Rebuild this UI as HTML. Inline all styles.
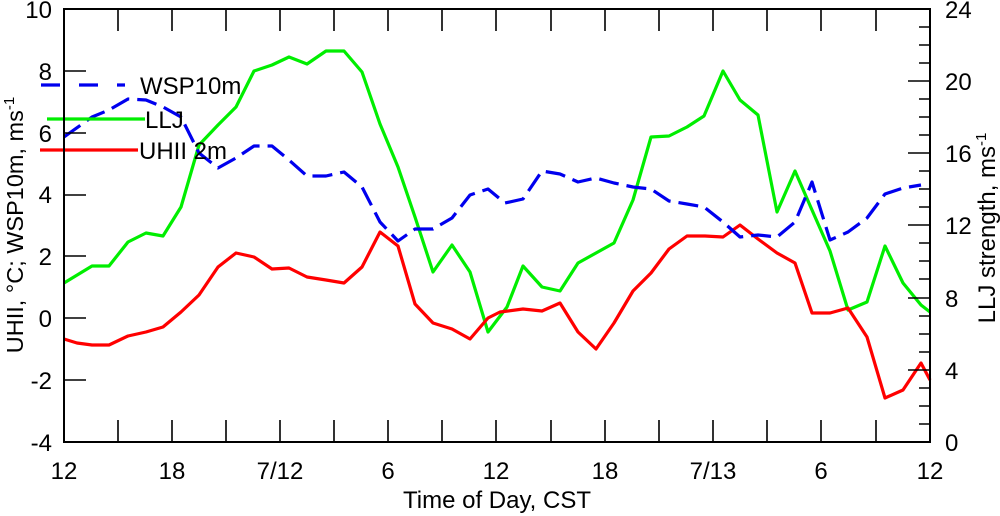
<!DOCTYPE html>
<html><head><meta charset="utf-8"><style>
html,body{margin:0;padding:0;background:#fff;}
svg{display:block;font-family:"Liberation Sans",sans-serif;}
</style></head><body>
<svg width="1000" height="516" viewBox="0 0 1000 516" xmlns="http://www.w3.org/2000/svg">
<g fill="none" stroke-linejoin="round" stroke-width="3.2">
<polyline stroke="#00ee00" points="64,283 92,266 109,266 128,242 146,233 163,236 181,207 199,145 218,125 236,107 254,71 272,65 289,57 307,64 326,51 344,51 362,72 380,124 398,167 415,217 433,272 452,245 470,272 488,332 507,307 523,266 542,287 560,291 578,263 596,253 614,243 633,200 651,137 669,136 687,127 704,116 723,71 740,100 758,115 777,212 795,171 812,210 830,251 848,310 867,302 885,246 903,283 921,305 930,312"/>
<polyline stroke="#ff0000" points="64,339 77,343 92,345 109,345 128,336 146,332 163,327 181,312 199,295 218,267 236,253 254,257 272,269 289,268 307,277 326,280 344,283 362,267 380,232 398,246 415,304 433,323 452,329 470,339 488,318 500,312 523,309 542,311 560,303 578,332 596,349 614,323 633,291 651,273 669,249 687,236 705,236 723,237 740,225 758,239 777,253 795,263 812,313 830,313 848,308 867,337 885,398 903,390 921,363 930,380"/>
<polyline stroke="#0000ee" stroke-dasharray="20 8" points="64,137 92,117 109,110 128,99 146,100 163,107 181,117 199,153 218,168 236,158 254,146 272,146 289,160 307,176 326,176 344,172 362,187 380,222 398,241 415,229 433,229 452,218 470,195 488,189 505,203 523,199 542,171 560,174 578,182 596,178 614,183 633,187 651,189 669,201 687,204 704,207 723,222 740,237 758,235 777,237 795,222 812,182 830,240 848,232 867,218 885,194 903,188 921,185"/>
<line x1="41" y1="85" x2="125" y2="85" stroke="#0000ee" stroke-dasharray="19 19"/>
<line x1="47" y1="119" x2="145" y2="119" stroke="#00ee00"/>
<line x1="40" y1="150" x2="138" y2="150" stroke="#ff0000"/>
</g>
<g font-size="24" fill="#000">
<text x="140" y="94">WSP10m</text>
<text x="145" y="128">LLJ</text>
<text x="139" y="159">UHII 2m</text>
</g>
<rect x="64" y="9" width="866" height="433" fill="none" stroke="#000" stroke-width="2"/>
<g stroke="#000" stroke-width="1.6">
<path d="M118,9v22M172,9v22M226,9v22M280,9v22M334,9v22M388,9v22M442,9v22M496,9v22M551,9v22M605,9v22M659,9v22M713,9v22M767,9v22M821,9v22M876,9v22"/>
<path d="M118,442v-22M172,442v-22M226,442v-22M280,442v-22M334,442v-22M388,442v-22M442,442v-22M496,442v-22M551,442v-22M605,442v-22M659,442v-22M713,442v-22M767,442v-22M821,442v-22M876,442v-22"/>
<path d="M64,71h22M64,133h22M64,195h22M64,256h22M64,318h22M64,380h22"/>
<path d="M930,81h-22M930,153h-22M930,225h-22M930,298h-22M930,370h-22"/>
<path d="M930,27h-11M930,45h-11M930,63h-11M930,99h-11M930,117h-11M930,135h-11M930,171h-11M930,189h-11M930,207h-11M930,243h-11M930,261h-11M930,279h-11M930,316h-11M930,334h-11M930,352h-11M930,388h-11M930,406h-11M930,424h-11"/>
</g>
<g font-size="24" fill="#000" text-anchor="end">
<text x="52" y="18">10</text>
<text x="52" y="80">8</text>
<text x="52" y="142">6</text>
<text x="52" y="203">4</text>
<text x="52" y="265">2</text>
<text x="52" y="327">0</text>
<text x="52" y="389">-2</text>
<text x="52" y="451">-4</text>
</g>
<g font-size="24" fill="#000">
<text x="945" y="18">24</text>
<text x="945" y="90">20</text>
<text x="945" y="162">16</text>
<text x="945" y="234">12</text>
<text x="945" y="307">8</text>
<text x="945" y="379">4</text>
<text x="945" y="451">0</text>
</g>
<g font-size="24" fill="#000" text-anchor="middle">
<text x="64" y="479">12</text>
<text x="172" y="479">18</text>
<text x="280" y="479">7/12</text>
<text x="388" y="479">6</text>
<text x="496" y="479">12</text>
<text x="605" y="479">18</text>
<text x="713" y="479">7/13</text>
<text x="821" y="479">6</text>
<text x="930" y="479">12</text>
<text x="497" y="508" font-size="24">Time of Day, CST</text>
<text transform="translate(23,225) rotate(-90)" font-size="23.5">UHII, °C; WSP10m, ms<tspan dy="-9" font-size="15">-1</tspan></text>
<text transform="translate(995,228) rotate(-90)" font-size="24">LLJ strength, ms<tspan dy="-9" font-size="15">-1</tspan></text>
</g>
</svg>
</body></html>
